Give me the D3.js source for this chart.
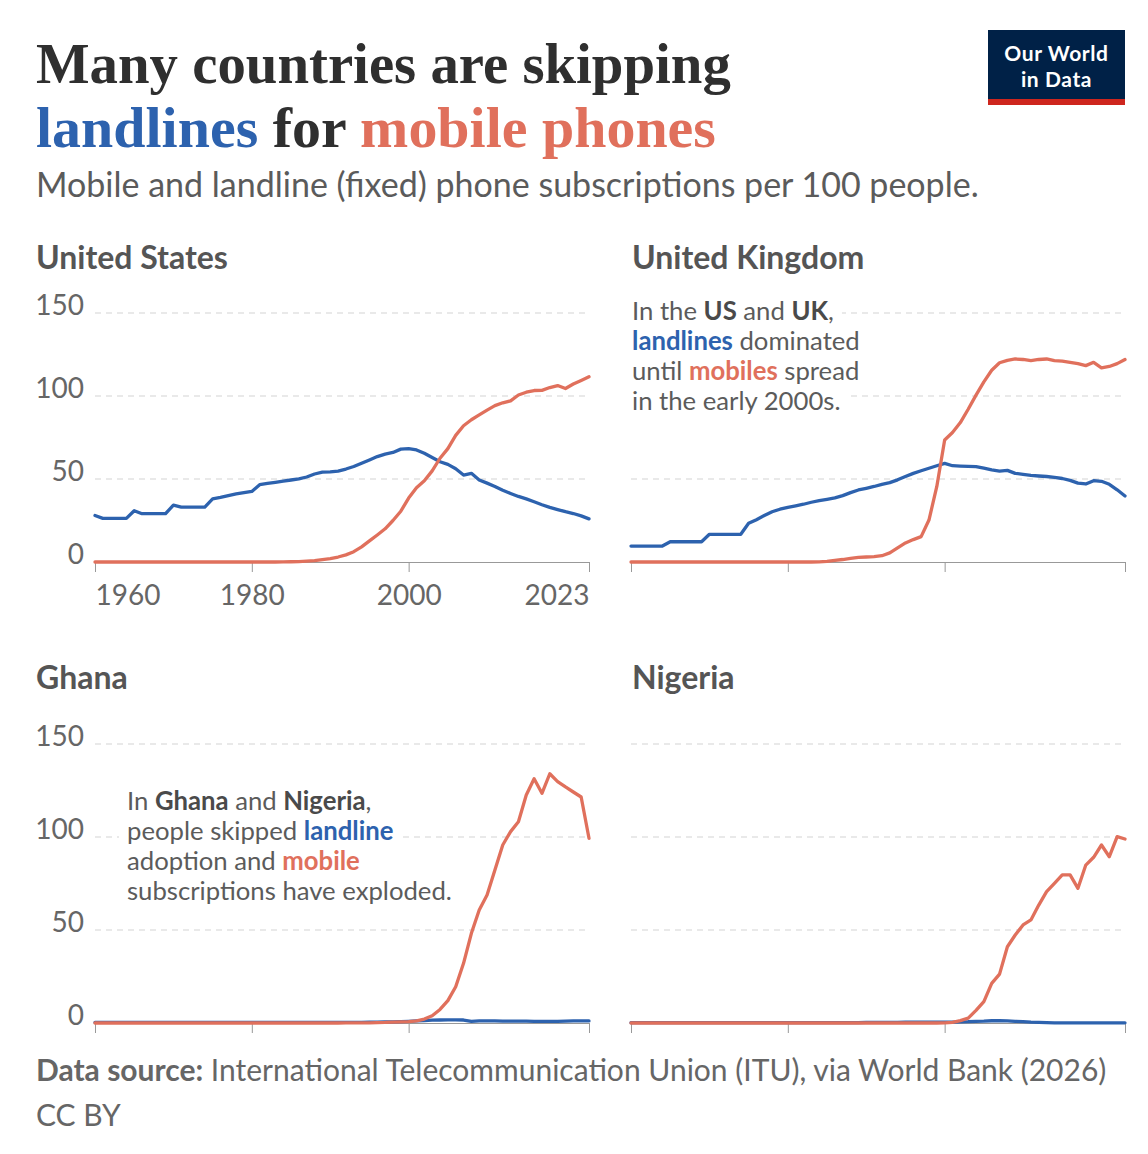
<!DOCTYPE html>
<html><head><meta charset="utf-8">
<script src="https://cdn.jsdelivr.net/npm/d3@7"></script>
<style>
html,body{margin:0;padding:0;background:#fff;}
svg{display:block;font-family:Lato,"Noto Sans",sans-serif;}
</style></head><body>
<svg id="chart" width="1148" height="1154"></svg>
<script>
// ---------- DATA ----------
const years = d3.range(1960, 2024); // 1960 ... 2023
const tickYears = [1960, 1980, 2000, 2023];
const yTicks = [0, 50, 100, 150];
const countries = ["United States", "United Kingdom", "Ghana", "Nigeria"];

const usLandline = [28.0,26.3,26.3,26.3,26.3,30.9,29.1,29.1,29.1,29.1,
  34.3,33.1,33.1,33.1,33.1,38.0,38.9,40.0,41.0,41.8,
  42.5,46.6,47.3,48.0,48.7,49.4,50.1,51.2,53.0,54.2,
  54.3,54.8,56.0,57.5,59.5,61.5,63.5,65.0,66.0,68.0,
  68.3,67.5,65.5,63.0,60.4,58.8,56.2,52.4,53.4,49.4,
  47.5,45.5,43.2,41.3,39.5,38.0,36.3,34.5,32.9,31.6,
  30.3,29.2,27.8,26.0];
const usMobile = [0,0,0,0,0,0,0,0,0,0,
  0,0,0,0,0,0,0,0,0,0,
  0,0,0,0,0.04,0.14,0.28,0.5,0.8,1.4,
  2.1,3.0,4.3,6.2,9.1,12.7,16.3,20.0,25.0,30.6,
  38.5,44.7,48.9,54.9,62.5,68.3,76.3,82.1,85.7,88.6,
  91.5,94.2,95.9,97.1,100.6,102.3,103.3,103.4,105.1,106.3,
  104.5,107.2,109.4,111.6];

const ukLandline = [9.6,9.6,9.6,9.6,9.6,12.2,12.2,12.2,12.2,12.2,
  16.7,16.7,16.7,16.7,16.7,23.3,25.5,28.0,30.3,31.8,
  32.9,33.8,34.8,36.0,37.0,37.8,38.6,40.0,41.8,43.4,
  44.4,45.5,46.8,47.8,49.5,51.5,53.4,55.0,56.5,58.0,
  59.4,58.0,57.8,57.6,57.4,56.5,55.5,54.8,55.2,53.4,
  52.8,52.2,51.8,51.5,51.0,50.3,49.2,47.5,47.0,49.0,
  48.6,46.8,43.5,39.8];
const ukMobile = [0,0,0,0,0,0,0,0,0,0,
  0,0,0,0,0,0,0,0,0,0,
  0,0,0,0,0.1,0.4,1.0,1.5,2.2,2.8,
  3.0,3.3,3.8,5.5,8.5,11.5,13.5,15.3,25.3,45.5,
  73.5,78.0,84.0,92.0,100.5,108.5,115.5,120.0,121.5,122.3,
  122.0,121.3,122.0,122.3,121.3,121.0,120.3,119.5,118.3,120.3,
  117.0,117.8,119.5,122.0];

const ghanaLandline = [0.3,0.3,0.3,0.3,0.3,0.3,0.3,0.3,0.3,0.3,
  0.3,0.3,0.3,0.3,0.3,0.3,0.3,0.3,0.3,0.3,
  0.3,0.3,0.3,0.3,0.3,0.3,0.3,0.3,0.3,0.3,
  0.3,0.3,0.3,0.3,0.35,0.4,0.45,0.55,0.65,0.75,
  0.9,1.1,1.3,1.5,1.6,1.7,1.7,1.6,0.9,1.1,
  1.1,1.1,1.0,1.0,1.0,1.0,0.9,0.9,0.9,0.9,
  1.0,1.1,1.1,1.1];
const ghanaMobile = [0,0,0,0,0,0,0,0,0,0,
  0,0,0,0,0,0,0,0,0,0,
  0,0,0,0,0,0,0,0,0,0,
  0,0,0.02,0.03,0.05,0.1,0.2,0.3,0.5,0.6,
  0.7,1.2,2.1,3.9,7.3,12.0,19.5,32.1,48.2,60.8,
  68.8,82.2,95.7,102.9,108.2,122.6,131.3,123.5,134.0,129.8,
  126.9,124.2,121.5,99.3];

const nigeriaLandline = [0.2,0.2,0.2,0.2,0.2,0.2,0.2,0.2,0.2,0.2,
  0.2,0.2,0.2,0.2,0.2,0.2,0.2,0.2,0.2,0.2,
  0.2,0.2,0.2,0.2,0.2,0.2,0.2,0.2,0.2,0.2,
  0.3,0.3,0.3,0.35,0.35,0.4,0.4,0.4,0.4,0.45,
  0.45,0.5,0.6,0.7,0.9,1.0,1.2,1.3,1.1,0.9,
  0.7,0.45,0.3,0.2,0.1,0.1,0.1,0.1,0.1,0.1,
  0.1,0.1,0.1,0.1];
const nigeriaMobile = [0,0,0,0,0,0,0,0,0,0,
  0,0,0,0,0,0,0,0,0,0,
  0,0,0,0,0,0,0,0,0,0,
  0,0,0,0,0,0,0,0,0,0,
  0.02,0.3,1.3,2.6,6.8,11.5,21.3,26.3,41.0,47.3,
  52.7,55.4,63.4,70.6,75.1,79.6,79.6,72.4,84.9,89.1,
  95.7,89.4,100.2,98.9];

// ---------- STYLE ----------
const BLUE = "#2d62ae";
const RED = "#e0705c";
const TEXT = "#5b5b5b";

const svg = d3.select("#chart");
svg.append("rect").attr("width",1148).attr("height",1154).attr("fill","#fff");

// ---------- HEADER ----------
function fitX(sel, x, y, targetW){
  const w = sel.node().getComputedTextLength();
  sel.attr("transform", `translate(${x},${y}) scale(${targetW / w},1)`);
}
const t1 = svg.append("text")
  .attr("font-family", "'Liberation Serif','DejaVu Serif',serif")
  .attr("font-weight", 700).attr("font-size", 57).attr("fill", "#2f2f2f")
  .text("Many countries are skipping");
fitX(t1, 36, 83, 695);
const t2 = svg.append("text")
  .attr("font-family", "'Liberation Serif','DejaVu Serif',serif")
  .attr("font-weight", 700).attr("font-size", 57).attr("fill", "#2f2f2f");
t2.append("tspan").attr("fill", BLUE).text("landlines");
t2.append("tspan").text(" for ");
t2.append("tspan").attr("fill", RED).text("mobile phones");
fitX(t2, 36, 147, 680);

svg.append("text").attr("x",36).attr("y",197).attr("font-size",34).attr("fill",TEXT)
  .text("Mobile and landline (fixed) phone subscriptions per 100 people.");

// logo
const logo = svg.append("g");
logo.append("rect").attr("x",988).attr("y",30).attr("width",137).attr("height",75).attr("fill","#002147");
logo.append("rect").attr("x",988).attr("y",99).attr("width",137).attr("height",6).attr("fill","#ce261e");
logo.append("text").attr("x",1056.5).attr("y",61).attr("text-anchor","middle").attr("font-size",21)
  .attr("font-weight",700).attr("fill","#fff").attr("letter-spacing",0.6).text("Our World");
logo.append("text").attr("x",1056.5).attr("y",87).attr("text-anchor","middle").attr("font-size",21)
  .attr("font-weight",700).attr("fill","#fff").attr("letter-spacing",0.6).text("in Data");

// ---------- PANELS ----------
const panels = [
  {name: countries[0], landline: usLandline, mobile: usMobile, x0: 95, x1: 589, yBase: 562, yTop: 313, titleX: 36, titleY: 269, yLabels: true, xLabels: true},
  {name: countries[1], landline: ukLandline, mobile: ukMobile, x0: 631, x1: 1125, yBase: 562, yTop: 313, titleX: 632, titleY: 269, yLabels: false, xLabels: false},
  {name: countries[2], landline: ghanaLandline, mobile: ghanaMobile, x0: 95, x1: 589, yBase: 1023, yTop: 744, titleX: 36, titleY: 689, yLabels: true, xLabels: false},
  {name: countries[3], landline: nigeriaLandline, mobile: nigeriaMobile, x0: 631, x1: 1125, yBase: 1023, yTop: 744, titleX: 632, titleY: 689, yLabels: false, xLabels: false}
];

panels.forEach(p => {
  const g = svg.append("g");
  const x = d3.scaleLinear().domain([1960, 2023]).range([p.x0, p.x1]);
  const y = d3.scaleLinear().domain([0, 150]).range([p.yBase, p.yTop]);

  g.append("text").attr("x", p.titleX).attr("y", p.titleY).attr("font-size", 32)
    .attr("font-weight", 700).attr("fill", "#555").text(p.name);

  // gridlines
  g.selectAll(".grid").data(yTicks.filter(v => v > 0)).join("line")
    .attr("x1", p.x0).attr("x2", p.x1)
    .attr("y1", d => y(d)).attr("y2", d => y(d))
    .attr("stroke", "#d3d3d3").attr("stroke-width", 1).attr("stroke-dasharray", "6,5");

  if (p.yLabels) {
    g.selectAll(".ylab").data(yTicks).join("text")
      .attr("x", p.x0 - 11).attr("y", d => y(d) + 2)
      .attr("text-anchor", "end").attr("font-size", 28).attr("fill", "#666")
      .text(d => d);
  }

  // x axis
  const ax = g.append("g").attr("transform", `translate(0,${p.yBase})`)
    .call(d3.axisBottom(x).tickValues(tickYears).tickSize(10).tickSizeOuter(0).tickPadding(13)
      .tickFormat(p.xLabels ? d3.format("d") : () => ""));
  ax.select(".domain").attr("stroke", "#999");
  ax.selectAll(".tick line").attr("stroke", "#999");
  ax.selectAll(".tick text").attr("font-size", 28).attr("fill", "#666").attr("font-family", "Lato,'Noto Sans',sans-serif")
    .attr("text-anchor", (d, i) => i === 0 ? "start" : (i === tickYears.length - 1 ? "end" : "middle"));

  const line = d3.line().x(d => x(d.year)).y(d => y(d.v));
  const ld = years.map((yr, i) => ({year: yr, v: p.landline[i]}));
  const md = years.map((yr, i) => ({year: yr, v: p.mobile[i]}));
  g.append("path").datum(ld).attr("d", line).attr("fill", "none").attr("stroke", BLUE)
    .attr("stroke-width", 3.3).attr("stroke-linejoin", "round").attr("stroke-linecap", "round");
  g.append("path").datum(md).attr("d", line).attr("fill", "none").attr("stroke", RED)
    .attr("stroke-width", 3.3).attr("stroke-linejoin", "round").attr("stroke-linecap", "round");
});

// ---------- ANNOTATIONS ----------
function annotate(x, y0, lines){
  const g = svg.append("g");
  lines.forEach((parts, i) => {
    const yy = y0 + i * 30;
    const r = g.append("rect").attr("fill", "#fff");
    const t = g.append("text").attr("x", x).attr("y", yy).attr("font-size", 25.7).attr("fill", TEXT);
    parts.forEach(([s, style]) => {
      const ts = t.append("tspan").text(s);
      if (style) { ts.attr("font-weight", 700); ts.attr("fill", style === "b" ? "#4a4a4a" : style); }
    });
    const bb = t.node().getBBox();
    r.attr("x", bb.x - 8).attr("y", yy - 22).attr("width", bb.width + 16).attr("height", 30);
  });
}
annotate(632, 320, [
  [["In the ", null], ["US", "b"], [" and ", null], ["UK", "b"], [",", null]],
  [["landlines", BLUE], [" dominated", null]],
  [["until ", null], ["mobiles", RED], [" spread", null]],
  [["in the early 2000s.", null]]
]);
annotate(127, 810, [
  [["In ", null], ["Ghana", "b"], [" and ", null], ["Nigeria", "b"], [",", null]],
  [["people skipped ", null], ["landline", BLUE]],
  [["adoption and ", null], ["mobile", RED]],
  [["subscriptions have exploded.", null]]
]);

// ---------- FOOTER ----------
const f = svg.append("text").attr("x", 36).attr("y", 1081).attr("font-size", 30).attr("fill", "#666");
f.append("tspan").attr("font-weight", 700).text("Data source:");
f.append("tspan").text(" International Telecommunication Union (ITU), via World Bank (2026)");
svg.append("text").attr("x", 36).attr("y", 1126).attr("font-size", 30).attr("fill", "#666").text("CC BY");
</script>
</body></html>
